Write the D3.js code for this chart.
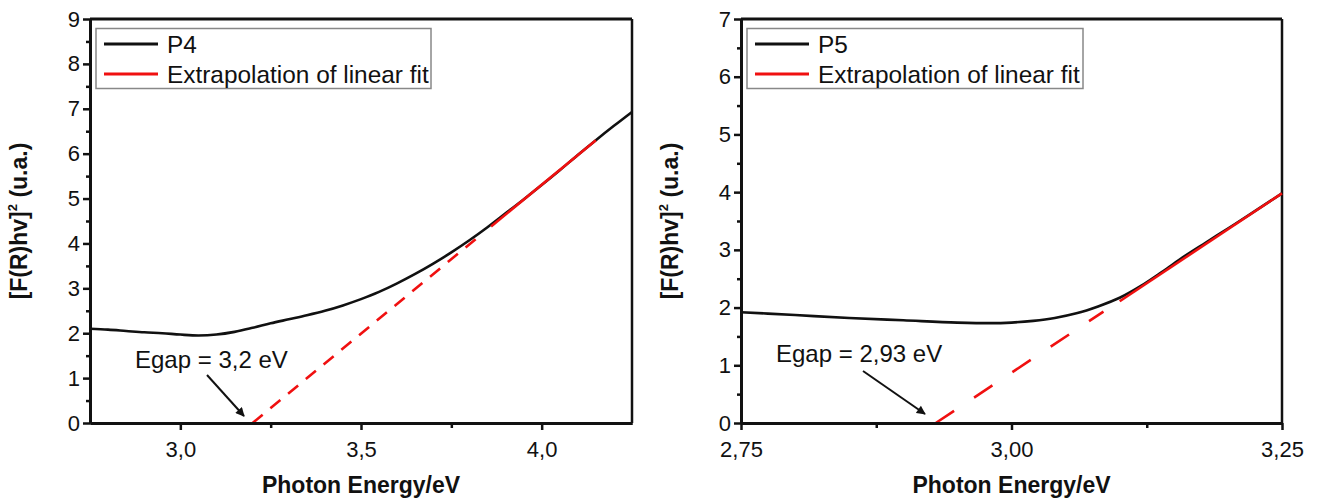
<!DOCTYPE html>
<html>
<head>
<meta charset="utf-8">
<script src="https://cdn.jsdelivr.net/npm/d3@7"></script>
<style>
  html, body { margin: 0; padding: 0; background: #fff; }
  svg { display: block; font-family: "Liberation Sans", Arial, sans-serif; }
</style>
</head>
<body>
<svg id="chart" width="1319" height="502"></svg>
<script>
// ---------- data ----------
const p4Energy = [2.75, 2.80, 2.85, 2.90, 2.95, 3.00, 3.05, 3.10, 3.15, 3.20, 3.25, 3.30, 3.35, 3.40, 3.45, 3.50, 3.55, 3.60, 3.65, 3.70, 3.75, 3.80, 3.85, 3.90, 3.95, 4.00, 4.05, 4.10, 4.15, 4.20, 4.25];
const p4Values = [2.10, 2.08, 2.05, 2.02, 2.00, 1.97, 1.95, 1.97, 2.03, 2.12, 2.22, 2.31, 2.40, 2.50, 2.62, 2.76, 2.92, 3.11, 3.32, 3.55, 3.80, 4.07, 4.36, 4.67, 4.98, 5.30, 5.63, 5.97, 6.30, 6.62, 6.93];
const p4FitX = [3.20, 3.83, 3.86, 4.15];
const p4FitY = [0, 4.18, 4.38, 6.30];

const p5Energy = [2.75, 2.80, 2.85, 2.90, 2.95, 2.98, 3.00, 3.02, 3.04, 3.06, 3.08, 3.10, 3.12, 3.14, 3.16, 3.18, 3.20, 3.22, 3.25];
const p5Values = [1.92, 1.87, 1.82, 1.78, 1.74, 1.73, 1.74, 1.77, 1.82, 1.90, 2.02, 2.17, 2.38, 2.63, 2.89, 3.13, 3.37, 3.61, 3.98];
const p5FitX = [2.93, 3.085, 3.10, 3.25];
const p5FitY = [0, 1.93, 2.11, 3.98];

const p4XTicks = [3.0, 3.5, 4.0];
const p4XTickLabels = ["3,0", "3,5", "4,0"];
const p4XMinor = [3.25, 3.75];
const p4YTicks = [0, 1, 2, 3, 4, 5, 6, 7, 8, 9];
const p4YMinor = [0.5, 1.5, 2.5, 3.5, 4.5, 5.5, 6.5, 7.5, 8.5];

const p5XTicks = [2.75, 3.00, 3.25];
const p5XTickLabels = ["2,75", "3,00", "3,25"];
const p5XMinor = [2.875, 3.125];
const p5YTicks = [0, 1, 2, 3, 4, 5, 6, 7];
const p5YMinor = [0.5, 1.5, 2.5, 3.5, 4.5, 5.5, 6.5];

const seriesNames = ["P4", "P5"];
const fitLabel = "Extrapolation of linear fit";
const egapLabels = ["Egap = 3,2 eV", "Egap = 2,93 eV"];
const xTitle = "Photon Energy/eV";

// ---------- drawing ----------
const svg = d3.select("#chart");
svg.append("rect").attr("width", 1319).attr("height", 502).attr("fill", "#fff");

const defs = svg.append("defs");
defs.append("marker")
  .attr("id", "arrow")
  .attr("viewBox", "0 0 10 10")
  .attr("refX", 9).attr("refY", 5)
  .attr("markerWidth", 5).attr("markerHeight", 4.5)
  .attr("markerUnits", "strokeWidth")
  .attr("orient", "auto")
  .append("path").attr("d", "M0,0 L10,5 L0,10 Z").attr("fill", "#111");

const RED = "#f01010";

function drawPanel(cfg) {
  const g = svg.append("g");
  const x = d3.scaleLinear().domain(cfg.xDomain).range([cfg.left, cfg.right]);
  const y = d3.scaleLinear().domain(cfg.yDomain).range([cfg.bottom, cfg.top]);

  // frame (top and right)
  g.append("line").attr("x1", cfg.left).attr("x2", cfg.right).attr("y1", cfg.top).attr("y2", cfg.top)
    .attr("stroke", "#111").attr("stroke-width", 3);
  g.append("line").attr("x1", cfg.right).attr("x2", cfg.right).attr("y1", cfg.top).attr("y2", cfg.bottom)
    .attr("stroke", "#111").attr("stroke-width", 2.5);

  // curve
  const line = d3.line().x(d => x(d[0])).y(d => y(d[1])).curve(d3.curveMonotoneX);
  const pts = cfg.energy.map((e, i) => [e, cfg.values[i]]);
  g.append("path").attr("d", line(pts)).attr("fill", "none")
    .attr("stroke", "#111").attr("stroke-width", 2.6).attr("stroke-linejoin", "round");

  // fit: dashed extrapolation and solid fitted segment
  const fit = cfg.fitX.map((e, i) => [e, cfg.fitY[i]]);
  const straight = d3.line().x(d => x(d[0])).y(d => y(d[1]));
  g.append("path").attr("d", straight(fit.slice(0, 2))).attr("fill", "none")
    .attr("stroke", RED).attr("stroke-width", 2.6).attr("stroke-dasharray", cfg.dash);
  g.append("path").attr("d", straight(fit.slice(2, 4))).attr("fill", "none")
    .attr("stroke", RED).attr("stroke-width", 2.6);

  // axes
  const fmtX = d => cfg.xLabels[cfg.xTicks.indexOf(d)];
  const xAxis = g.append("g").attr("transform", `translate(0,${cfg.bottom})`)
    .call(d3.axisBottom(x).tickValues(cfg.xTicks).tickFormat(fmtX).tickSize(7).tickPadding(11).tickSizeOuter(0));
  const xMinor = g.append("g").attr("transform", `translate(0,${cfg.bottom})`)
    .call(d3.axisBottom(x).tickValues(cfg.xMinor).tickFormat("").tickSize(5).tickSizeOuter(0));
  const yAxis = g.append("g").attr("transform", `translate(${cfg.left},0)`)
    .call(d3.axisLeft(y).tickValues(cfg.yTicks).tickFormat(d3.format("d")).tickSize(7).tickPadding(3).tickSizeOuter(0));
  const yMinor = g.append("g").attr("transform", `translate(${cfg.left},0)`)
    .call(d3.axisLeft(y).tickValues(cfg.yMinor).tickFormat("").tickSize(4).tickSizeOuter(0));
  [xAxis, xMinor, yAxis, yMinor].forEach(a => {
    a.select(".domain").attr("stroke", "#111").attr("stroke-width", 3);
    a.selectAll(".tick line").attr("stroke", "#111").attr("stroke-width", 2.5);
    a.selectAll(".tick text").attr("fill", "#111").attr("font-size", 22)
      .attr("font-family", "Liberation Sans, Arial, sans-serif");
  });

  // axis titles
  g.append("text").attr("x", (cfg.left + cfg.right) / 2).attr("y", 493)
    .attr("text-anchor", "middle").attr("font-weight", "bold").attr("font-size", 23)
    .attr("fill", "#111").text(xTitle);
  const yt = g.append("text")
    .attr("transform", `translate(${cfg.left - 63},${(cfg.top + cfg.bottom) / 2}) rotate(-90)`)
    .attr("text-anchor", "middle").attr("font-weight", "bold").attr("font-size", 23).attr("fill", "#111");
  yt.append("tspan").text("[F(R)hv]");
  yt.append("tspan").attr("font-size", 13).attr("dy", -10).text("2");
  yt.append("tspan").attr("dy", 10).text(" (u.a.)");

  // legend
  const lg = g.append("g");
  lg.append("rect").attr("x", cfg.left + 6).attr("y", 28.5).attr("width", cfg.legendW).attr("height", 60)
    .attr("fill", "#fff").attr("stroke", "#888").attr("stroke-width", 1.5);
  const rows = [{ label: cfg.name, color: "#111", yy: 44 }, { label: fitLabel, color: RED, yy: 74 }];
  rows.forEach(r => {
    lg.append("line").attr("x1", cfg.left + 14).attr("x2", cfg.left + 68).attr("y1", r.yy).attr("y2", r.yy)
      .attr("stroke", r.color).attr("stroke-width", 3);
    lg.append("text").attr("x", cfg.left + 77).attr("y", r.yy + 8.5).attr("font-size", 24.4)
      .attr("fill", "#111").text(r.label);
  });

  // Egap annotation
  g.append("text").attr("x", cfg.egapText[0]).attr("y", cfg.egapText[1]).attr("font-size", 24)
    .attr("fill", "#111").text(cfg.egapLabel);
  g.append("line").attr("x1", cfg.arrow[0]).attr("y1", cfg.arrow[1]).attr("x2", cfg.arrow[2]).attr("y2", cfg.arrow[3])
    .attr("stroke", "#111").attr("stroke-width", 2).attr("marker-end", "url(#arrow)");
}

drawPanel({
  name: seriesNames[0], energy: p4Energy, values: p4Values, fitX: p4FitX, fitY: p4FitY,
  xDomain: [2.75, 4.25], yDomain: [0, 9], left: 90, right: 632, top: 19, bottom: 423,
  xTicks: p4XTicks, xLabels: p4XTickLabels, xMinor: p4XMinor, yTicks: p4YTicks, yMinor: p4YMinor,
  legendW: 335, dash: "13,10", egapLabel: egapLabels[0], egapText: [135, 368], arrow: [207, 375, 244, 416]
});
drawPanel({
  name: seriesNames[1], energy: p5Energy, values: p5Values, fitX: p5FitX, fitY: p5FitY,
  xDomain: [2.75, 3.25], yDomain: [0, 7], left: 741, right: 1282, top: 19, bottom: 423,
  xTicks: p5XTicks, xLabels: p5XTickLabels, xMinor: p5XMinor, yTicks: p5YTicks, yMinor: p5YMinor,
  legendW: 336, dash: "22,24", egapLabel: egapLabels[1], egapText: [776, 362], arrow: [863, 371, 925, 414]
});
</script>
</body>
</html>
